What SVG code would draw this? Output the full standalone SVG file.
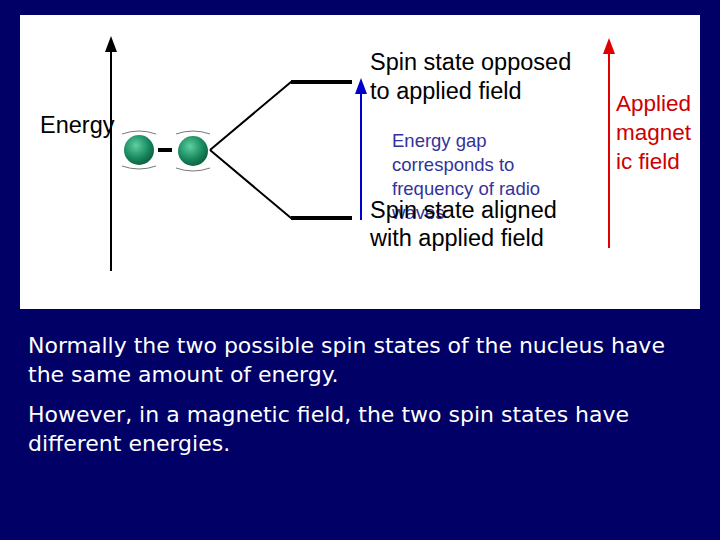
<svg xmlns="http://www.w3.org/2000/svg" width="720" height="540" viewBox="0 0 720 540">
<defs>
<radialGradient id="g" cx="0.4" cy="0.35" r="0.7"><stop offset="0" stop-color="#5fd0a0"/><stop offset="0.6" stop-color="#1a8a60"/><stop offset="1" stop-color="#0c5a3c"/></radialGradient>
<marker id="ak" markerWidth="8" markerHeight="8" refX="4" refY="4" orient="auto"><path d="M0,1 L8,4 L0,7 z" fill="#000"/></marker>
<marker id="ab" markerWidth="8" markerHeight="8" refX="4" refY="4" orient="auto"><path d="M0,1 L8,4 L0,7 z" fill="#0000cc"/></marker>
<marker id="ar" markerWidth="8" markerHeight="8" refX="4" refY="4" orient="auto"><path d="M0,1 L8,4 L0,7 z" fill="#e00000"/></marker>
</defs>
<style>
.a{font-family:"Liberation Sans",Arial,sans-serif;font-size:23.5px;fill:#000}
.s{font-family:"Liberation Sans",Arial,sans-serif;font-size:18.5px;fill:#333399}
.r{font-family:"Liberation Sans",Arial,sans-serif;font-size:22.5px;fill:#cc0000}
.b{font-family:"DejaVu Sans",sans-serif;font-size:22px;fill:#fff}
</style>
<rect width="720" height="540" fill="#000066"/>
<rect x="20" y="15" width="680" height="294" fill="#fff"/>
<g id="connectors" stroke-width="2" fill="none">
<line x1="111" y1="271" x2="111" y2="44" stroke="#000" marker-end="url(#ak)"/>
<polyline points="210,150 291,82 352,82" stroke="#000" stroke-width="2"/>
<line x1="291" y1="82" x2="352" y2="82" stroke="#000" stroke-width="4"/>
<polyline points="210,150 291,218 352,218" stroke="#000" stroke-width="2"/>
<line x1="291" y1="218" x2="352" y2="218" stroke="#000" stroke-width="4"/>
<line x1="361" y1="220" x2="361" y2="86" stroke="#0000cc" marker-end="url(#ab)"/>
<line x1="609" y1="248" x2="609" y2="46" stroke="#e00000" marker-end="url(#ar)"/>
</g>
<g id="spins">
<circle cx="139" cy="150" r="15" fill="url(#g)"/>
<circle cx="193" cy="151" r="15" fill="url(#g)"/>
<line x1="158" y1="150" x2="172" y2="150" stroke="#000" stroke-width="4"/>
<path d="M122,134 Q139,128 156,134 M122,166 Q139,172 156,166 M176,134 Q193,128 210,134 M176,168 Q193,174 210,168" stroke="#555" stroke-width="0.8" fill="none"/>
</g>
<g id="labels">
<text class="a" x="40" y="133" font-size="21.5">Energy</text>
<text class="a" x="370" y="70">Spin state opposed</text>
<text class="a" x="370" y="99">to applied field</text>
<text class="s" x="392" y="147">Energy gap</text>
<text class="s" x="392" y="171">corresponds to</text>
<text class="s" x="392" y="195">frequency of radio</text>
<text class="s" x="392" y="219">waves</text>
<text class="a" x="370" y="218">Spin state aligned</text>
<text class="a" x="370" y="246">with applied field</text>
<text class="r" x="616" y="111">Applied</text>
<text class="r" x="616" y="140">magnet</text>
<text class="r" x="616" y="169">ic field</text>
</g>
<g id="body">
<text class="b" x="28" y="353">Normally the two possible spin states of the nucleus have</text>
<text class="b" x="28" y="382">the same amount of energy.</text>
<text class="b" x="28" y="422">However, in a magnetic field, the two spin states have</text>
<text class="b" x="28" y="451">different energies.</text>
</g>
</svg>
